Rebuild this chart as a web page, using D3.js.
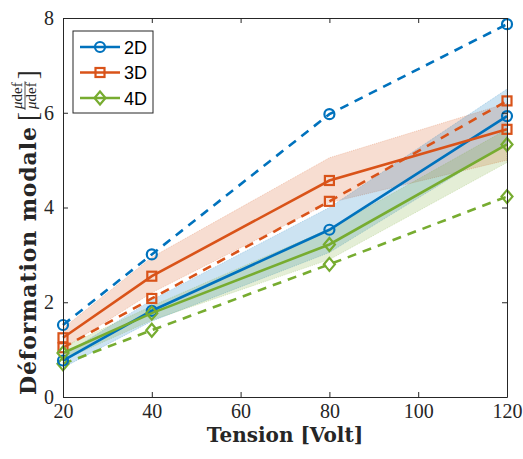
<!DOCTYPE html>
<meta charset="utf-8">
<html>
<head>
  <script src="https://d3js.org/d3.v7.min.js"></script>
  <style>
    body { margin: 0; background: #fff; }
  </style>
</head>
<body>
<div id="chart"></div>
<script>
// data
var tension = [20, 40, 80, 120];
var seriesNames = ["2D", "3D", "4D"];
var colors = ["#0072BD", "#D95319", "#77AC30"];
var markers = ["circle", "square", "diamond"];

var solid2D = [0.77, 1.82, 3.53, 5.93];
var dashed2D = [1.52, 3.01, 5.97, 7.87];
var low2D = [0.62, 1.60, 3.05, 5.35];
var high2D = [0.88, 2.05, 4.00, 6.50];

var solid3D = [1.25, 2.55, 4.57, 5.65];
var dashed3D = [1.04, 2.08, 4.13, 6.25];
var low3D = [1.02, 2.20, 4.10, 5.00];
var high3D = [1.45, 2.95, 5.05, 6.20];

var solid4D = [0.93, 1.77, 3.22, 5.33];
var dashed4D = [0.70, 1.41, 2.80, 4.23];
var low4D = [0.78, 1.62, 2.90, 4.95];
var high4D = [1.05, 1.92, 3.55, 5.65];

var xTicks = [20, 40, 60, 80, 100, 120];
var yTicks = [0, 2, 4, 6, 8];

var solids = [solid2D, solid3D, solid4D];
var dashes = [dashed2D, dashed3D, dashed4D];
var lows = [low2D, low3D, low4D];
var highs = [high2D, high3D, high4D];

var W = 523, H = 459;
var margin = {top: 18, right: 16, bottom: 62, left: 63};
var width = W - margin.left - margin.right,
    height = H - margin.top - margin.bottom;

var svg = d3.select("#chart").append("svg")
    .attr("width", W).attr("height", H);
var g = svg.append("g")
    .attr("transform", "translate(" + margin.left + "," + margin.top + ")");

var x = d3.scaleLinear().domain([20, 120]).range([0, width]);
var y = d3.scaleLinear().domain([0, 8]).range([height, 0]);

var serif = "'Liberation Serif', 'DejaVu Serif', serif";
var boldSerif = "'DejaVu Serif', serif";
var axisColor = "#262626";

// shaded bands
var area = d3.area()
  .x(function(d) { return x(d.t); })
  .y0(function(d) { return y(d.lo); })
  .y1(function(d) { return y(d.hi); });

g.append("clipPath").attr("id", "clip")
  .append("rect").attr("width", width).attr("height", height);
var plot = g.append("g").attr("clip-path", "url(#clip)");

[1, 0, 2].forEach(function(i) {
  var d = tension.map(function(t, k) { return {t: t, lo: lows[i][k], hi: highs[i][k]}; });
  plot.append("path")
    .datum(d)
    .attr("d", area)
    .attr("fill", colors[i])
    .attr("fill-opacity", 0.2)
    .attr("stroke", colors[i])
    .attr("stroke-opacity", 0.25)
    .attr("stroke-width", 1)
    .attr("stroke-dasharray", "1,1");
});

var line = d3.line()
  .x(function(d, k) { return x(tension[k]); })
  .y(function(d) { return y(d); });

function marker(sel, cx, cy, i) {
  var col = colors[i];
  if (markers[i] == "circle") {
    sel.append("circle").attr("cx", cx).attr("cy", cy).attr("r", 5)
      .attr("fill", "none").attr("stroke", col).attr("stroke-width", 2.2);
  } else if (markers[i] == "square") {
    sel.append("rect").attr("x", cx - 4.5).attr("y", cy - 4.5)
      .attr("width", 9).attr("height", 9)
      .attr("fill", "none").attr("stroke", col).attr("stroke-width", 2.2);
  } else {
    sel.append("path")
      .attr("d", "M" + cx + "," + (cy - 6.5) + "L" + (cx + 5.5) + "," + cy +
            "L" + cx + "," + (cy + 6.5) + "L" + (cx - 5.5) + "," + cy + "Z")
      .attr("fill", "none").attr("stroke", col).attr("stroke-width", 2.2);
  }
}

var marks = g.append("g");
[0, 1, 2].forEach(function(i) {
  marks.append("path").datum(dashes[i]).attr("d", line)
    .attr("fill", "none").attr("stroke", colors[i])
    .attr("stroke-width", 2.6).attr("stroke-dasharray", "9,7");
  dashes[i].forEach(function(v, k) { marker(marks, x(tension[k]), y(v), i); });
});
[0, 1, 2].forEach(function(i) {
  marks.append("path").datum(solids[i]).attr("d", line)
    .attr("fill", "none").attr("stroke", colors[i])
    .attr("stroke-width", 2.6);
  solids[i].forEach(function(v, k) { marker(marks, x(tension[k]), y(v), i); });
});

// axes box, ticks inward
function styleAxis(a) {
  a.select(".domain").attr("stroke", axisColor);
  a.selectAll(".tick line").attr("stroke", axisColor);
  a.selectAll("text").attr("font-family", serif).attr("font-size", 20).attr("fill", axisColor);
}
var xa = g.append("g").attr("transform", "translate(0," + height + ")")
  .call(d3.axisBottom(x).tickValues(xTicks).tickSize(-5).tickPadding(7).tickSizeOuter(0));
styleAxis(xa);
var xt = g.append("g")
  .call(d3.axisTop(x).tickValues(xTicks).tickSize(-5).tickFormat("").tickSizeOuter(0));
styleAxis(xt);
var ya = g.append("g")
  .call(d3.axisLeft(y).tickValues(yTicks).tickSize(-5).tickPadding(9).tickSizeOuter(0));
styleAxis(ya);
var yr = g.append("g").attr("transform", "translate(" + width + ",0)")
  .call(d3.axisRight(y).tickValues(yTicks).tickSize(-5).tickFormat("").tickSizeOuter(0));
styleAxis(yr);

// x label
g.append("text")
  .attr("x", width / 2).attr("y", height + 45)
  .attr("text-anchor", "middle")
  .attr("font-family", boldSerif).attr("font-weight", "bold").attr("font-size", 20)
  .attr("fill", axisColor)
  .text("Tension [Volt]");

// y label with fraction
var yl = svg.append("g").attr("transform", "translate(36,395) rotate(-90)");
yl.append("text")
  .attr("x", 0).attr("y", 0)
  .attr("font-family", boldSerif).attr("font-weight", "bold").attr("font-size", 22)
  .attr("textLength", 268).attr("lengthAdjust", "spacing")
  .attr("fill", axisColor)
  .text("Déformation modale");
var pos = 274;
var lb = yl.append("text").attr("x", pos).attr("y", 1)
  .attr("font-family", serif).attr("font-size", 27).attr("fill", axisColor).text("[");
pos += lb.node().getComputedTextLength() + 2;
var fw = 0;
[-14, -0.5].forEach(function(by) {
  var t = yl.append("text").attr("x", pos + 1).attr("y", by)
    .attr("font-family", serif).attr("font-size", 15).attr("fill", axisColor);
  t.append("tspan").attr("font-style", "italic").text("μ");
  t.append("tspan").text("def");
  fw = Math.max(fw, t.node().getComputedTextLength());
});
yl.append("line").attr("x1", pos).attr("x2", pos + fw + 2)
  .attr("y1", -11).attr("y2", -11).attr("stroke", axisColor).attr("stroke-width", 0.8);
pos += fw + 4;
yl.append("text").attr("x", pos).attr("y", 1)
  .attr("font-family", serif).attr("font-size", 27).attr("fill", axisColor).text("]");

// legend
var leg = g.append("g").attr("transform", "translate(10,13)");
leg.append("rect").attr("width", 80).attr("height", 82)
  .attr("fill", "#fff").attr("stroke", axisColor).attr("stroke-width", 1);
seriesNames.forEach(function(name, i) {
  var ly = 16 + i * 25.5;
  leg.append("line").attr("x1", 7).attr("x2", 47).attr("y1", ly).attr("y2", ly)
    .attr("stroke", colors[i]).attr("stroke-width", 2.6);
  marker(leg, 27, ly, i);
  leg.append("text").attr("x", 51).attr("y", ly + 6.5)
    .attr("font-family", "'Liberation Sans', Arial, sans-serif").attr("font-size", 18)
    .attr("fill", "#000").text(name);
});
</script>
</body>
</html>
